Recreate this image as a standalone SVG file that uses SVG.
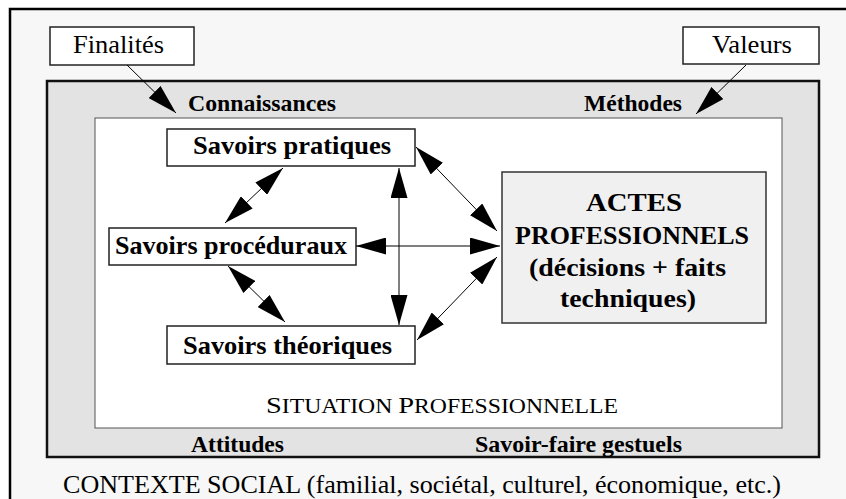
<svg xmlns="http://www.w3.org/2000/svg" width="846" height="499" viewBox="0 0 846 499">
<defs>
<marker id="ah" markerUnits="userSpaceOnUse" markerWidth="30" markerHeight="17" refX="30" refY="8.5" orient="auto-start-reverse">
<path d="M0,0 L30,8.5 L0,17 z" fill="#000"/>
</marker>
</defs>
<style>
text{font-family:'Liberation Serif','Times New Roman',Tinos,'Nimbus Roman','DejaVu Serif','Noto Serif',serif;fill:#000;text-anchor:middle}
.reg{font-size:26px}
.bold{font-weight:bold}
.b24{font-size:24px}
.b26{font-size:26px}
.node{fill:#fff;stroke:#222;stroke-width:1.5}
.conn line{stroke:#000;stroke-width:1}
</style>
<rect x="0" y="0" width="846" height="499" fill="#fff"/>
<g id="contexte">
<rect x="10" y="9" width="850" height="510" fill="#f7f7f7" stroke="#000" stroke-width="2.5"/>
<text class="reg" x="422" y="493" textLength="718" lengthAdjust="spacingAndGlyphs">CONTEXTE SOCIAL (familial, sociétal, culturel, économique, etc.)</text>
</g>
<g id="band">
<rect x="47" y="81" width="772" height="376" fill="#e3e3e3" stroke="#111" stroke-width="2.5"/>
<text class="bold b24" x="262" y="111" textLength="148" lengthAdjust="spacingAndGlyphs">Connaissances</text>
<text class="bold b24" x="633" y="111" textLength="98" lengthAdjust="spacingAndGlyphs">Méthodes</text>
<text class="bold b24" x="237.5" y="452" textLength="93" lengthAdjust="spacingAndGlyphs">Attitudes</text>
<text class="bold b24" x="578.5" y="452" textLength="207" lengthAdjust="spacingAndGlyphs">Savoir-faire gestuels</text>
</g>
<g id="situation">
<rect x="95" y="118" width="687" height="310" fill="#fff" stroke="#555" stroke-width="1"/>
<text class="reg" x="442" y="413" textLength="352" lengthAdjust="spacingAndGlyphs"><tspan font-size="24">S</tspan><tspan font-size="20">ITUATION </tspan><tspan font-size="24">P</tspan><tspan font-size="20">ROFESSIONNELLE</tspan></text>
</g>
<g id="finalites">
<rect class="node" x="50" y="27" width="144" height="38"/>
<text class="reg" x="118.5" y="53" textLength="91" lengthAdjust="spacingAndGlyphs">Finalités</text>
</g>
<g id="valeurs">
<rect class="node" x="683" y="27" width="136" height="37"/>
<text class="reg" x="752" y="53" textLength="80" lengthAdjust="spacingAndGlyphs">Valeurs</text>
</g>
<g id="savoirs-pratiques">
<rect class="node" x="167" y="129" width="248" height="37"/>
<text class="bold b26" x="292" y="154" textLength="198" lengthAdjust="spacingAndGlyphs">Savoirs pratiques</text>
</g>
<g id="savoirs-proceduraux">
<rect class="node" x="109" y="228" width="247" height="37"/>
<text class="bold b26" x="231" y="254" textLength="232" lengthAdjust="spacingAndGlyphs">Savoirs procéduraux</text>
</g>
<g id="savoirs-theoriques">
<rect class="node" x="167" y="326" width="248" height="38"/>
<text class="bold b26" x="287.5" y="354" textLength="209" lengthAdjust="spacingAndGlyphs">Savoirs théoriques</text>
</g>
<g id="actes">
<rect x="502" y="172" width="264" height="151" fill="#f0f0f0" stroke="#333" stroke-width="1.5"/>
<text class="bold b26" x="634" y="211" textLength="96" lengthAdjust="spacingAndGlyphs">ACTES</text>
<text class="bold b26" x="632" y="244" textLength="234" lengthAdjust="spacingAndGlyphs">PROFESSIONNELS</text>
<text class="bold b26" x="627.5" y="276" textLength="197" lengthAdjust="spacingAndGlyphs">(décisions + faits</text>
<text class="bold b26" x="628" y="307" textLength="136" lengthAdjust="spacingAndGlyphs">techniques)</text>
</g>
<g id="connectors" class="conn">
<line x1="127" y1="65" x2="176" y2="113" marker-end="url(#ah)"/>
<line x1="746" y1="65" x2="696" y2="114" marker-end="url(#ah)"/>
<line x1="283" y1="168" x2="225" y2="223" marker-start="url(#ah)" marker-end="url(#ah)"/>
<line x1="228" y1="266" x2="285" y2="322" marker-start="url(#ah)" marker-end="url(#ah)"/>
<line x1="399" y1="168" x2="399" y2="325" marker-start="url(#ah)" marker-end="url(#ah)"/>
<line x1="356" y1="246" x2="500" y2="246" marker-start="url(#ah)" marker-end="url(#ah)"/>
<line x1="416" y1="147" x2="497" y2="231" marker-start="url(#ah)" marker-end="url(#ah)"/>
<line x1="417" y1="340" x2="497" y2="257" marker-start="url(#ah)" marker-end="url(#ah)"/>
</g>
</svg>
